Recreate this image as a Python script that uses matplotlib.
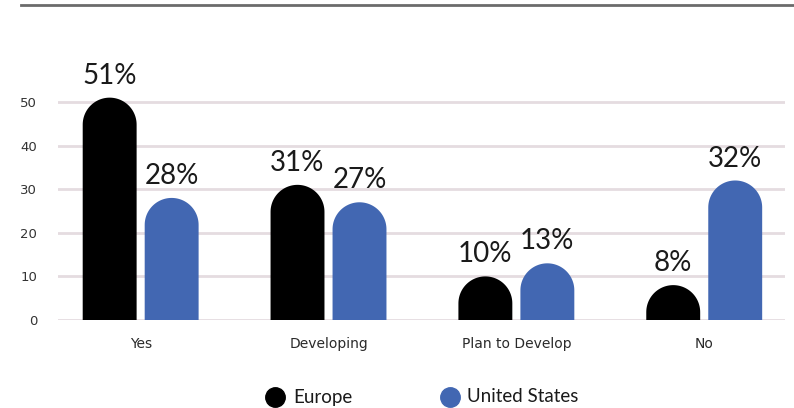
import numpy as np
import matplotlib
matplotlib.use("Agg")
import matplotlib.pyplot as plt
from matplotlib.path import Path
from matplotlib.patches import PathPatch
from matplotlib.lines import Line2D

categories = ["Yes", "Developing", "Plan to Develop", "No"]
europe = [51, 31, 10, 8]
united_states = [28, 27, 13, 32]
series_names = ["Europe", "United States"]
series_colors = ["#000000", "#4267b2"]
y_ticks = [0, 10, 20, 30, 40, 50]

W, H = 794, 408
fig = plt.figure(figsize=(W / 100, H / 100), dpi=100)
fig.patch.set_facecolor("white")

# axes box in pixels
ax_left, ax_right, ax_bottom = 58, 785, 320
y_max = 60
px_per_y = 4.36
ax_h = y_max * px_per_y
ax = fig.add_axes([ax_left / W, (H - ax_bottom) / H,
                   (ax_right - ax_left) / W, ax_h / H])
xlim = (-0.44, 3.43)
ax.set_xlim(*xlim)
ax.set_ylim(0, y_max)

px_per_x = (ax_right - ax_left) / (xlim[1] - xlim[0])

bar_w = 0.287
offset = 0.165


def rounded_bar(xc, value, color):
    # bar with a semicircular cap; the cap radius is matched in pixels
    rx = bar_w / 2
    ry = rx * px_per_x / px_per_y
    base = max(value - ry, 0)
    t = np.linspace(0, np.pi, 60)
    arc = np.column_stack([xc + rx * np.cos(t), base + ry * np.sin(t)])
    verts = [(xc - rx, 0), (xc + rx, 0), (xc + rx, base)]
    verts += [tuple(p) for p in arc]
    verts += [(xc - rx, base), (xc - rx, 0)]
    codes = [Path.MOVETO] + [Path.LINETO] * (len(verts) - 2) + [Path.CLOSEPOLY]
    ax.add_patch(PathPatch(Path(verts, codes), facecolor=color,
                           edgecolor="none", zorder=3))
    ax.text(xc, value + 3.2, f"{value}%", ha="center", va="baseline",
            fontsize=20, family="Lato", color="#1a1a1a", zorder=4)


x = np.arange(len(categories))
for i, (e, u) in enumerate(zip(europe, united_states)):
    rounded_bar(x[i] - offset, e, series_colors[0])
    rounded_bar(x[i] + offset, u, series_colors[1])

# grid
for yv in y_ticks:
    ax.axhline(yv, color="#e5dce0", lw=2, zorder=1)

for s in ax.spines.values():
    s.set_visible(False)
ax.set_yticks(y_ticks)
ax.set_yticklabels([str(v) for v in y_ticks], fontsize=9.5, color="#333333")
ax.tick_params(axis="y", length=0, pad=15)
ax.set_xticks(x)
ax.set_xticklabels(categories, fontsize=10, color="#2a2a2a")
ax.tick_params(axis="x", length=0, pad=12)

# thin rule across the top
fig.add_artist(Line2D([21 / W, 1.0], [1 - 5 / H, 1 - 5 / H],
                      transform=fig.transFigure, color="#6b6b6b", lw=2))

# legend drawn by hand below the plot
legend_y = 1 - 397 / H
for name, color, cx, tx in zip(series_names, series_colors,
                               [275, 450], [293, 467]):
    fig.add_artist(Line2D([cx / W], [legend_y], marker="o", markersize=14,
                          color=color, transform=fig.transFigure))
    fig.text(tx / W, legend_y, name, ha="left", va="center", fontsize=13.5,
             family="Lato", color="#1a1a1a")

fig.savefig("out.png", dpi=100)
